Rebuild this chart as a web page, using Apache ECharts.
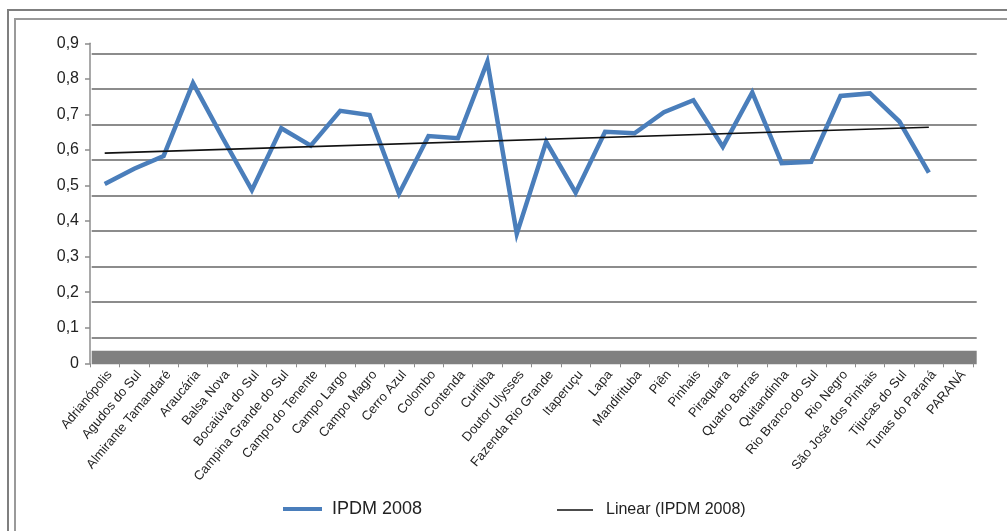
<!DOCTYPE html>
<html>
<head>
<meta charset="utf-8">
<script src="https://cdn.jsdelivr.net/npm/echarts@6/dist/echarts.min.js"></script>
<style>
  html, body { margin: 0; padding: 0; background: #ffffff; }
  #chart { width: 1007px; height: 531px; }
</style>
</head>
<body>
<div id="chart"></div>
<script>
// Municípios e índice IPDM 2008
const municipios = [
  'Adrianópolis', 'Agudos do Sul', 'Almirante Tamandaré', 'Araucária', 'Balsa Nova',
  'Bocaiúva do Sul', 'Campina Grande do Sul', 'Campo do Tenente', 'Campo Largo', 'Campo Magro',
  'Cerro Azul', 'Colombo', 'Contenda', 'Curitiba', 'Doutor Ulysses',
  'Fazenda Rio Grande', 'Itaperuçu', 'Lapa', 'Mandirituba', 'Piên',
  'Pinhais', 'Piraquara', 'Quatro Barras', 'Quitandinha', 'Rio Branco do Sul',
  'Rio Negro', 'São José dos Pinhais', 'Tijucas do Sul', 'Tunas do Paraná', 'PARANÁ'
];

const ipdm2008 = [
  0.504, 0.547, 0.583, 0.788, 0.635,
  0.487, 0.661, 0.612, 0.710, 0.698,
  0.477, 0.639, 0.633, 0.848, 0.364,
  0.623, 0.480, 0.651, 0.647, 0.706,
  0.740, 0.609, 0.762, 0.563, 0.567,
  0.752, 0.759, 0.680, 0.536, null
];

// Linha de tendência linear: extremos
const tendenciaMunicipios = ['Adrianópolis', 'Tunas do Paraná'];
const tendenciaValores = [0.591, 0.664];

const FONT = "'Liberation Sans', Arial, sans-serif";
const GRID_COLOR = '#8c8c8c';

const chart = echarts.init(document.getElementById('chart'), null, { renderer: 'canvas' });

const fmt = v => String(+v.toFixed(1)).replace('.', ',');

chart.setOption({
  backgroundColor: '#ffffff',
  animation: false,
  graphic: [
    { type: 'rect', z: -10, shape: { x: 8, y: 10, width: 1100, height: 600 },
      style: { fill: 'none', stroke: '#7f7f7f', lineWidth: 2 } },
    { type: 'rect', z: -10, shape: { x: 15, y: 19, width: 1100, height: 600 },
      style: { fill: 'none', stroke: '#9a9a9a', lineWidth: 2 } }
  ],
  legend: [
    {
      left: 283, top: 500, padding: 0,
      icon: 'rect', itemWidth: 39, itemHeight: 4,
      data: ['IPDM 2008'],
      textStyle: { fontFamily: FONT, fontSize: 18, color: '#222', padding: [0, 0, 0, 5] }
    },
    {
      left: 557, top: 502, padding: 0,
      icon: 'rect', itemWidth: 36, itemHeight: 1.5,
      data: ['Linear (IPDM 2008)'],
      textStyle: { fontFamily: FONT, fontSize: 16, color: '#222', padding: [0, 0, 0, 8] }
    }
  ],
  grid: [
    { left: 90, top: 43.3, width: 883, height: 320 },
    { left: 91.7, top: 53.3, width: 885, height: 284.4 }
  ],
  xAxis: [
    {
      type: 'category', gridIndex: 0, data: municipios, boundaryGap: true,
      axisLine: { show: false },
      axisTick: { show: true, length: 4, lineStyle: { color: '#8c8c8c', width: 1 } },
      axisLabel: {
        interval: 0, rotate: 50, margin: 5, verticalAlign: 'top',
        fontFamily: FONT, fontSize: 13, color: '#222'
      },
      splitLine: { show: false }
    },
    {
      // piso cinza sob a área do gráfico
      type: 'category', gridIndex: 1, data: municipios, offset: 20,
      axisLine: { show: true, lineStyle: { color: '#808080', width: 13.3, cap: 'butt' } },
      axisTick: { show: false }, axisLabel: { show: false }, splitLine: { show: false }
    }
  ],
  yAxis: [
    {
      type: 'value', gridIndex: 0, min: 0, max: 0.9, interval: 0.1,
      axisLine: { show: true, lineStyle: { color: '#8c8c8c', width: 1.5 } },
      axisTick: { show: true, length: 5, lineStyle: { color: '#8c8c8c', width: 1.5 } },
      axisLabel: { formatter: fmt, margin: 11, fontFamily: FONT, fontSize: 16, color: '#222' },
      splitLine: { show: false }
    },
    {
      type: 'value', gridIndex: 1, min: 0.1, max: 0.9, interval: 0.1,
      axisLine: { show: false }, axisTick: { show: false }, axisLabel: { show: false },
      splitLine: { show: true, lineStyle: { color: GRID_COLOR, width: 2 } }
    }
  ],
  series: [
    {
      name: 'IPDM 2008', type: 'line', xAxisIndex: 0, yAxisIndex: 0,
      data: ipdm2008, symbol: 'none', z: 5,
      itemStyle: { color: '#4a7ebb' },
      lineStyle: { color: '#4a7ebb', width: 4.5, join: 'miter' }
    },
    {
      name: 'Linear (IPDM 2008)', type: 'line', xAxisIndex: 0, yAxisIndex: 0,
      data: tendenciaMunicipios.map((m, i) => [m, tendenciaValores[i]]),
      symbol: 'none', z: 6,
      itemStyle: { color: '#111' },
      lineStyle: { color: '#111', width: 1.6 }
    }
  ]
});
</script>
</body>
</html>
